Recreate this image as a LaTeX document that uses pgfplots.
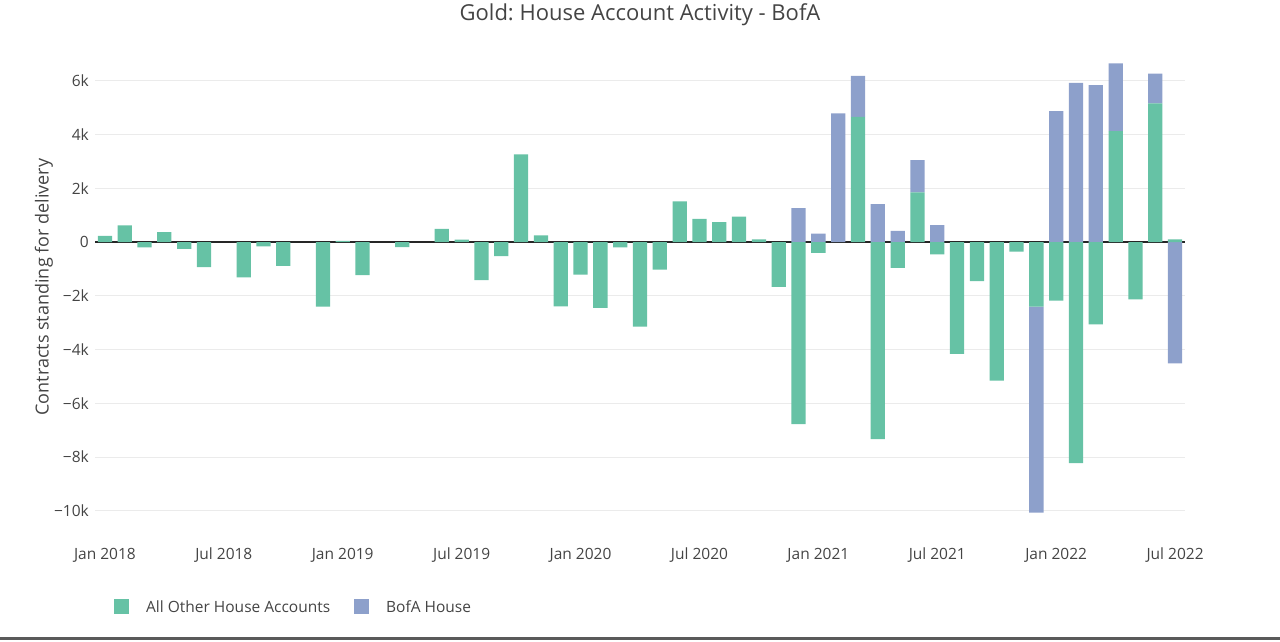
\documentclass[border=0pt]{standalone}
\usepackage{fontspec}
\setmainfont{Open Sans}
\usepackage{pgfplots}
\pgfplotsset{compat=1.18}
\usepackage{pgfplotstable}
\definecolor{cgreen}{HTML}{66C2A5}
\definecolor{cblue}{HTML}{8DA0CB}
\definecolor{ctext}{HTML}{444444}
\definecolor{cgrid}{HTML}{EBEBEB}
\definecolor{cborder}{HTML}{5A5A5A}
\frenchspacing

% x = month index (0 = Jan 2018), g = All Other House Accounts, b = BofA House
\pgfplotstableread{
x g b
0 230 0
1 620 0
2 -200 0
3 370 0
4 -250 0
5 -930 0
6 0 0
7 -1310 0
8 -160 0
9 -890 0
10 0 0
11 -2400 0
12 40 0
13 -1230 0
14 0 0
15 -185 0
16 0 0
17 490 0
18 90 0
19 -1420 0
20 -525 0
21 3260 0
22 250 0
23 -2390 0
24 -1210 0
25 -2450 0
26 -200 0
27 -3150 0
28 -1025 0
29 1510 0
30 860 0
31 740 0
32 950 0
33 100 0
34 -1670 0
35 -6770 1265
36 -400 310
37 0 4785
38 4660 1525
39 -7330 1410
40 -965 420
41 1850 1200
42 -460 630
43 -4165 0
44 -1450 0
45 -5160 0
46 -360 0
47 -2405 -7660
48 -2180 4870
49 -8230 5925
50 -3060 5840
51 4130 2515
52 -2130 0
53 5155 1115
54 100 -4510
}\data

\begin{document}
\begin{tikzpicture}[x=1pt,y=1pt]
\path[use as bounding box] (0,0) rectangle (1280,641);
\fill[cborder] (0,1) rectangle (1280,4);
\node[text=ctext, font=\fontsize{22}{26}\selectfont] at (640,626.5) {Gold: House Account Activity - BofA};
\begin{axis}[
  at={(95pt,106pt)}, anchor=south west,
  width=1090pt, height=494pt, scale only axis,
  xmin=-0.5, xmax=54.5, ymin=-10900, ymax=7480,
  ybar stacked, bar width=0.72,
  axis line style={draw=none},
  major tick length=0pt,
  scaled y ticks=false,
  xtick={0,6,...,54},
  xticklabels={Jan 2018,Jul 2018,Jan 2019,Jul 2019,Jan 2020,Jul 2020,Jan 2021,Jul 2021,Jan 2022,Jul 2022},
  ytick={-10000,-8000,-6000,-4000,-2000,2000,4000,6000},
  yticklabels={−10k,−8k,−6k,−4k,−2k,2k,4k,6k},
  extra y ticks={0},
  extra y tick labels={0},
  extra y tick style={ymajorgrids=true, major grid style={draw=black!85, line width=1.1pt}},
  ymajorgrids,
  grid style={cgrid, line width=1pt},
  ticklabel style={text=ctext, font=\fontsize{15.5}{18}\selectfont},
  yticklabel style={anchor=east, inner sep=0pt, xshift=-6pt},
  xticklabel style={anchor=base, inner sep=0pt, yshift=-24.5pt},
  ylabel={Contracts standing for delivery},
  ylabel style={at={(axis description cs:-0.0468,0.502)}, anchor=center, text=ctext, font=\fontsize{18}{22}\selectfont},
  legend columns=2,
  legend image code/.code={\fill[#1] (0pt,-7.5pt) rectangle (15pt,7.5pt);},
  legend style={at={(0.0174,-0.1457)}, anchor=west, draw=none, fill=none, inner sep=0pt,
    nodes={inner sep=0pt, text=ctext, font=\fontsize{15.5}{18}\selectfont},
    /tikz/every odd column/.append style={column sep=17pt},
    /tikz/every even column/.append style={column sep=24pt}},
  legend cell align=left,
]
\addplot[fill=cgreen, draw=none] table[x=x, y=g] {\data};
\addlegendentry{All Other House Accounts}
\addplot[fill=cblue, draw=none] table[x=x, y=b] {\data};
\addlegendentry{BofA House}
\end{axis}
\end{tikzpicture}
\end{document}
